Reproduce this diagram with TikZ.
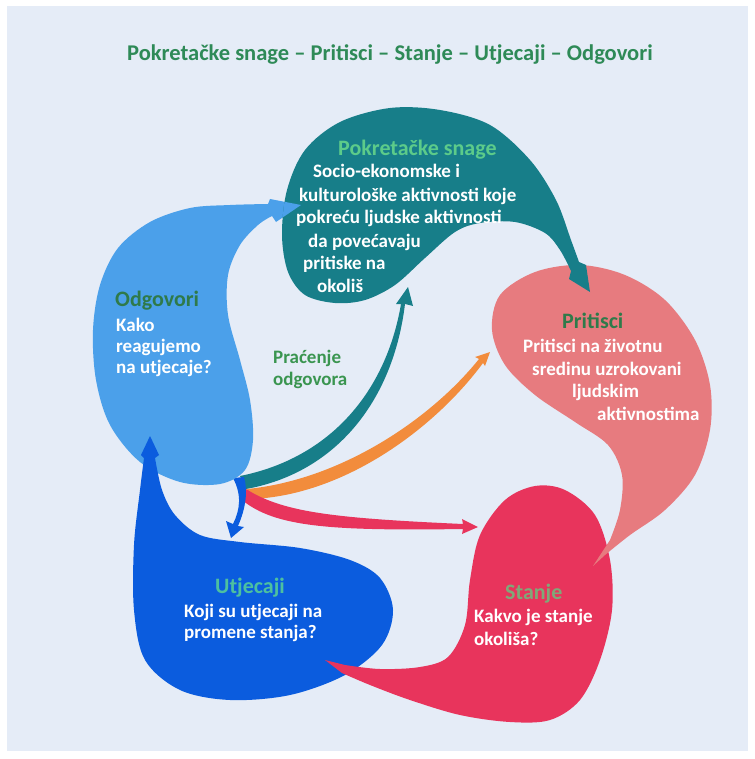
\documentclass[tikz,border=0pt]{standalone}
\usepackage{fontspec}
\setmainfont{Carlito}
\definecolor{bgc}{HTML}{E5ECF7}
\definecolor{tealc}{HTML}{177E89}
\definecolor{lbluec}{HTML}{4BA0EA}
\definecolor{bluec}{HTML}{0B5CDE}
\definecolor{crimc}{HTML}{E8345C}
\definecolor{pinkc}{HTML}{E77B7F}
\definecolor{orangec}{HTML}{F28C3C}
\definecolor{titlec}{HTML}{2E8A57}
\definecolor{hdteal}{HTML}{5CCB8A}
\definecolor{hddark}{HTML}{2F7A4A}
\definecolor{pracc}{HTML}{3A9550}
\definecolor{hdutj}{HTML}{4DC0A0}
\definecolor{hdstan}{HTML}{80A878}
\def\TealBlob{(590,292) -- (569,279) -- plot[smooth,tension=0.55] coordinates {(571,271) (560,250) (545,233) (515,222) (480,223) (455,232) (425,258) (395,285) (365,300) (335,303) (305,295) (288,272) (282,235) (287,190) (305,150) (340,122) (390,108) (440,110) (490,125) (530,160) (556,200) (571,240) (579,262)} -- (586,265) -- cycle}
\def\LBlueBlob{(301,205) -- (276,222) -- plot[smooth,tension=0.55] coordinates {(272,216) (258,225) (240,245) (228,275) (228,315) (240,360) (250,400) (253,440) (245,470) (220,484) (180,482) (140,462) (110,425) (96,380) (93,330) (100,285) (118,248) (150,222) (190,208) (230,205) (268,204)} -- (270,199) -- cycle}
\def\BlueBlob{(150,436) -- (141,455) -- plot[smooth,tension=0.55] coordinates {(144,458) (140,490) (134,545) (134,610) (145,660) (180,690) (230,700) (290,695) (345,675) (382,645) (393,610) (380,578) (350,560) (300,548) (240,542) (200,535) (175,515) (162,490) (155,458)} -- (159,455) -- cycle}
\def\CrimBlob{(325,660) -- (345,665) -- plot[smooth,tension=0.55] coordinates {(345,665) (380,669) (420,667) (448,657) (465,625) (470,580) (480,535) (505,500) (535,486) (565,490) (595,515) (610,560) (612,610) (600,660) (580,700) (550,720) (510,722) (460,715) (410,700) (370,685) (342,673)} -- cycle}
\def\PinkBlob{(593,566) -- plot[smooth,tension=0.55] coordinates {(605,555) (630,535) (665,510) (695,475) (710,430) (710,385) (695,340) (665,300) (625,275) (580,265) (535,272) (500,295) (492,330) (505,365) (535,395) (575,422) (608,445) (622,475) (620,510) (610,540)} -- cycle}
\begin{document}
\begin{tikzpicture}[x=1pt,y=-1pt,
  bodytext/.style={font=\fontsize{19}{22}\selectfont\bfseries, text=white, inner sep=0pt, anchor=base west},
  headtext/.style={font=\fontsize{22}{25}\selectfont\bfseries, inner sep=0pt, anchor=base west}]
\useasboundingbox (0,0) rectangle (754,759);
\fill[white] (0,0) rectangle (754,759);
\fill[bgc] (7,6) rectangle (748,751);
\node[font=\fontsize{22.5}{26}\selectfont\bfseries, text=titlec, inner sep=0pt, anchor=base] (title) at (390,61) {Pokretačke snage – Pritisci – Stanje – Utjecaji – Odgovori};
% tapered arrows from the centre
\fill[tealc] (240,476) .. controls (330,458) and (386,392) .. (401,304) -- (396,304) -- (408,287) -- (413,306) -- (405,304) .. controls (393,402) and (335,473) .. (246,489) -- cycle;
\fill[orangec] (247,489) .. controls (340,480) and (430,420) .. (479,359) -- (475,357) -- (490,352) -- (485,366) -- (483,363) .. controls (435,428) and (345,495) .. (252,499) -- cycle;
\fill[crimc] (243,487) .. controls (280,512) and (330,518) .. (463,524) -- (462,519) -- (478,527) -- (462,534) -- (463,529) .. controls (330,531) and (275,527) .. (242,500) -- cycle;
\fill[bluec] (233,478) .. controls (242,495) and (240,510) .. (233,524) -- (226,521) -- (231,538) -- (244,527) -- (238,526) .. controls (246,508) and (248,490) .. (244,477) -- cycle;
% blobs
\fill[lbluec] \LBlueBlob;
\fill[bluec] \BlueBlob;
\fill[crimc] \CrimBlob;
\fill[pinkc] \PinkBlob;
\fill[tealc] \TealBlob;
\begin{scope}
\clip \TealBlob;
\fill[lbluec] \LBlueBlob;
\end{scope}
% texts
\node[headtext, text=hdteal] (ds) at (338,156) {Pokretačke snage};
\node[bodytext] (ds1) at (313,178) {Socio-ekonomske i};
\node[bodytext] (ds2) at (299,202) {kulturološke aktivnosti koje};
\node[bodytext] (ds3) at (296,223) {pokreću ljudske aktivnosti};
\node[bodytext] (ds4) at (308,247) {da povećavaju};
\node[bodytext] (ds5) at (303,269) {pritiske na};
\node[bodytext] (ds6) at (317,292) {okoliš};
\node[headtext, text=hddark] (od) at (115,306) {Odgovori};
\node[bodytext] (od1) at (116,331) {Kako};
\node[bodytext] (od2) at (116,352) {reagujemo};
\node[bodytext] (od3) at (116,373) {na utjecaje?};
\node[bodytext, text=pracc] (pr1) at (273,363) {Praćenje};
\node[bodytext, text=pracc] (pr2) at (273,385) {odgovora};
\node[headtext, text=hddark] (pt) at (562,328) {Pritisci};
\node[bodytext] (pt1) at (523,352) {Pritisci na životnu};
\node[bodytext] (pt2) at (532,375) {sredinu uzrokovani};
\node[bodytext] (pt3) at (572,397) {ljudskim};
\node[bodytext] (pt4) at (597,420) {aktivnostima};
\node[headtext, text=hdutj] (ut) at (215,593) {Utjecaji};
\node[bodytext] (ut1) at (184,617) {Koji su utjecaji na};
\node[bodytext] (ut2) at (184,638) {promene stanja?};
\node[headtext, text=hdstan] (st) at (505,599) {Stanje};
\node[bodytext] (st1) at (474,622) {Kakvo je stanje};
\node[bodytext] (st2) at (474,645) {okoliša?};
\end{tikzpicture}
\end{document}
